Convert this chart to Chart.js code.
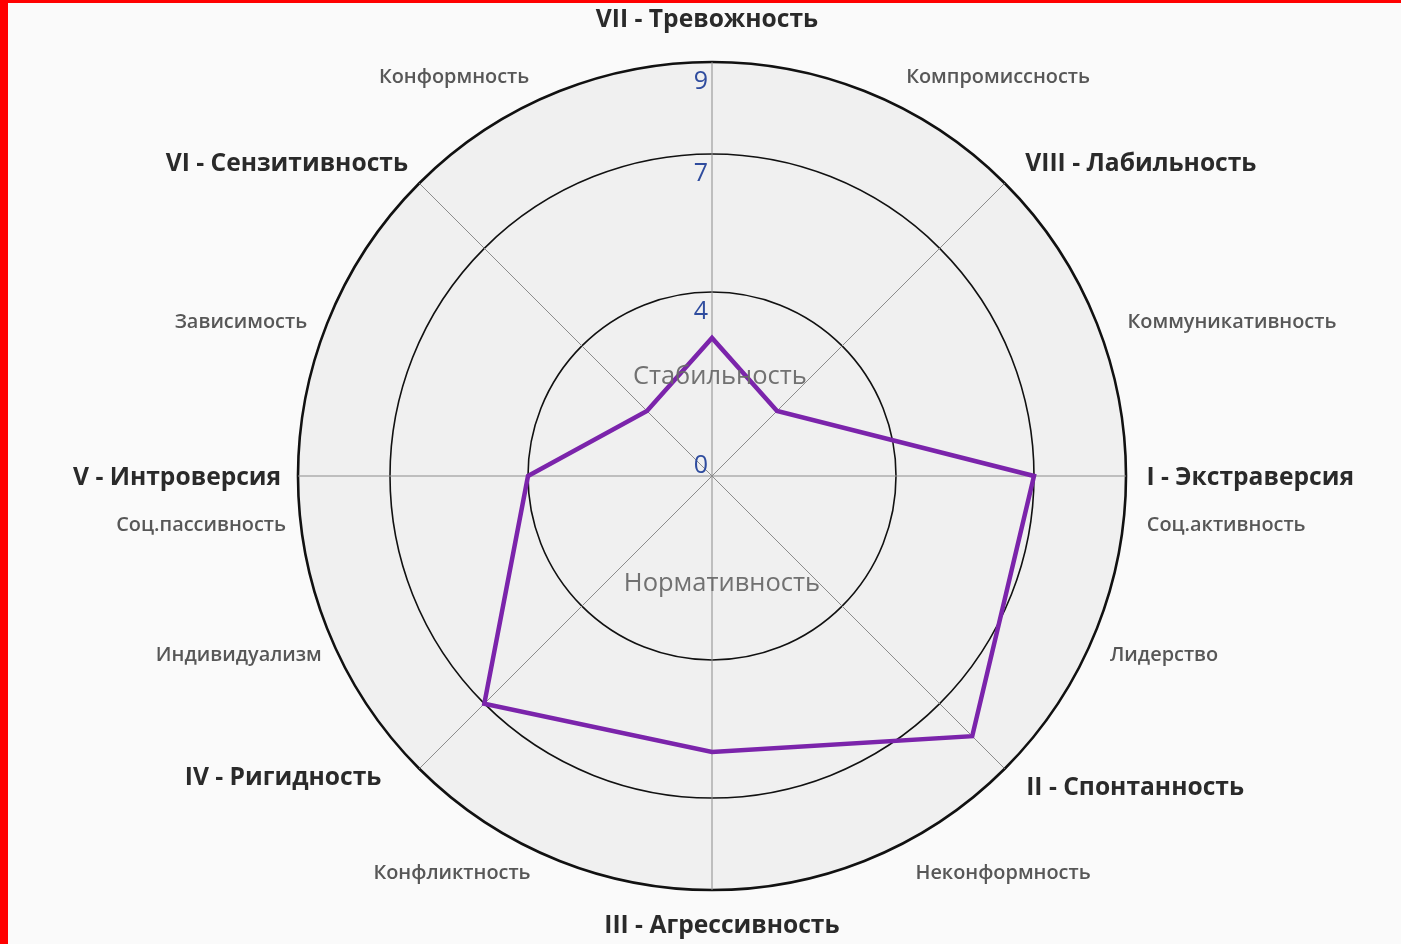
<!DOCTYPE html>
<html lang="ru">
<head>
<meta charset="UTF-8">
<title>Радар</title>
<script src="https://cdn.jsdelivr.net/npm/chart.js@4"></script>
<style>
  html, body { margin: 0; padding: 0; background: #fafafa; overflow: hidden; }
  #wrap { position: relative; width: 1401px; height: 944px; }
  .edge-left { position: absolute; left: 0; top: 0; width: 8px; height: 944px; background: #ff0000; }
  .edge-top { position: absolute; left: 0; top: 0; width: 1401px; height: 3px; background: #ff0000; }
</style>
</head>
<body>
<div id="wrap">
  <canvas id="radar" width="1401" height="944"></canvas>
  <div class="edge-left"></div>
  <div class="edge-top"></div>
</div>
<script>
// Оси (по часовой стрелке, начиная справа)
const categories = [
  'I - Экстраверсия', 'II - Спонтанность', 'III - Агрессивность', 'IV - Ригидность',
  'V - Интроверсия', 'VI - Сензитивность', 'VII - Тревожность', 'VIII - Лабильность'
];
const values = [7, 8, 6, 7, 4, 2, 3, 2];
const tickValues = [0, 4, 7, 9];

// Подписи между осями и в центре
const subLabels = [
  'Компромиссность', 'Конформность', 'Коммуникативность', 'Зависимость',
  'Соц.активность', 'Соц.пассивность', 'Лидерство', 'Индивидуализм',
  'Неконформность', 'Конфликтность'
];
const centerLabels = ['Стабильность', 'Нормативность'];

// Размещение подписей (центр текста, в долях радиуса)
const mainPos = [
  [1.300, 0.004], [1.022, 0.753], [0.024, 1.087], [-1.036, 0.729],
  [-1.292, 0.004], [-1.027, -0.754], [-0.012, -1.102], [1.036, -0.754]
];
const subPos = [
  [0.691, -0.962], [-0.623, -0.962], [1.256, -0.372], [-1.138, -0.372],
  [1.242, 0.120], [-1.234, 0.120], [1.092, 0.434], [-1.143, 0.434],
  [0.703, 0.959], [-0.628, 0.959]
];
const centerPos = [[0.019, -0.240], [0.024, 0.260]];

const FONT = '"Open Sans", "Noto Sans", sans-serif';

const labelsPlugin = {
  id: 'radarLabels',
  afterDatasetsDraw(chart) {
    const s = chart.scales.r;
    const ctx = chart.ctx;
    const R = s.drawingArea;
    const cx = s.xCenter, cy = s.yCenter;
    ctx.save();
    ctx.textAlign = 'center';
    ctx.textBaseline = 'middle';

    // центральные подписи
    ctx.font = '400 25.5px ' + FONT;
    ctx.fillStyle = 'rgba(105,105,105,0.95)';
    centerLabels.forEach((t, i) => {
      ctx.fillText(t, cx + centerPos[i][0] * R, cy + centerPos[i][1] * R);
    });

    // значения шкалы
    ctx.font = '400 25px ' + FONT;
    ctx.fillStyle = '#2f4c9e';
    ctx.textAlign = 'right';
    ctx.textBaseline = 'alphabetic';
    tickValues.forEach(v => {
      const d = s.getDistanceFromCenterForValue(v);
      const y = cy - d + (v > 0 ? 27 : -3);
      ctx.fillText(String(v), cx - 4, y);
    });

    // основные оси
    ctx.textAlign = 'center';
    ctx.textBaseline = 'middle';
    ctx.font = '700 24.6px ' + FONT;
    ctx.fillStyle = '#2a2a2a';
    categories.forEach((t, i) => {
      ctx.fillText(t, cx + mainPos[i][0] * R, cy + mainPos[i][1] * R);
    });

    // промежуточные подписи
    ctx.font = '600 19.9px ' + FONT;
    ctx.fillStyle = '#575757';
    subLabels.forEach((t, i) => {
      ctx.fillText(t, cx + subPos[i][0] * R, cy + subPos[i][1] * R);
    });
    ctx.restore();
  }
};

new Chart(document.getElementById('radar'), {
  type: 'radar',
  data: {
    labels: categories,
    datasets: [{
      data: values,
      borderColor: '#7b24ab',
      borderWidth: 4.5,
      borderJoinStyle: 'miter',
      backgroundColor: 'transparent',
      fill: false,
      pointRadius: 0,
      pointHoverRadius: 0,
      tension: 0
    }]
  },
  options: {
    responsive: false,
    animation: false,
    layout: { padding: { top: 62, bottom: 54, left: 100, right: 77 } },
    plugins: { legend: { display: false }, tooltip: { enabled: false } },
    scales: {
      r: {
        min: 0,
        max: 9,
        startAngle: 90,
        backgroundColor: '#f0f0f0',
        afterBuildTicks: scale => { scale.ticks = tickValues.map(v => ({ value: v })); },
        ticks: { display: false },
        pointLabels: { display: false },
        angleLines: { color: '#8c8c8c', lineWidth: 1 },
        grid: {
          circular: true,
          color: '#111111',
          lineWidth: c => (c.index === tickValues.length - 1 ? 2.6 : 1.6)
        }
      }
    }
  },
  plugins: [labelsPlugin]
});
</script>
</body>
</html>
